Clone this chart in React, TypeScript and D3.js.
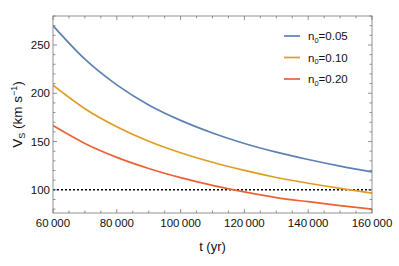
import * as d3 from "d3";

const times = [60000, 70000, 80000, 90000, 100000, 110000, 120000, 130000, 140000, 150000, 160000];
const vBlue = [270, 235.3, 208.7, 187.9, 171.9, 158.9, 148.0, 139.0, 131.4, 124.6, 118.6];
const vOrange = [208.3, 184.0, 165.3, 150.3, 138.4, 128.5, 120.1, 112.8, 106.8, 101.5, 96.6];
const vRed = [166.5, 148.0, 133.6, 122.1, 112.6, 104.6, 97.8, 92.0, 87.7, 83.7, 80.0];

const seriesNames = ["n0=0.05", "n0=0.10", "n0=0.20"];
const seriesColors = ["#5E81B5", "#E19C24", "#EB6235"];
const xTicks = [60000, 80000, 100000, 120000, 140000, 160000];
const yTicks = [100, 150, 200, 250];
const refLine = 100;

function App() {
  const width = 399;
  const height = 266;
  const marginLeft = 53;
  const marginRight = 27;
  const marginTop = 16;
  const marginBottom = 53;

  const x = d3
    .scaleLinear()
    .domain([60000, 160000])
    .range([marginLeft, width - marginRight]);
  const y = d3
    .scaleLinear()
    .domain([76, 280])
    .range([height - marginBottom, marginTop]);

  const series = [vBlue, vOrange, vRed];
  const line = d3
    .line<number>()
    .x((_, i) => x(times[i]))
    .y((d) => y(d))
    .curve(d3.curveMonotoneX);

  const fmt = (v: number) => d3.format(",")(v).replace(",", "\u2009");
  const xMinor = d3.range(60000, 160001, 5000);
  const yMinor = d3.range(80, 281, 10);
  const x0 = x.range()[0];
  const x1 = x.range()[1];
  const y0 = y.range()[0];
  const y1 = y.range()[1];
  const font = "'Liberation Sans', Arial, sans-serif";
  const frame = "#777";

  return (
    <svg
      width={width}
      height={height}
      style={{ position: "absolute", left: 0, top: 0, background: "#fff" }}
      fontFamily={font}
    >
      <defs>
        <clipPath id="plot">
          <rect x={x0} y={y1} width={x1 - x0} height={y0 - y1} />
        </clipPath>
      </defs>

      <g clipPath="url(#plot)">
        <line
          x1={x0}
          x2={x1}
          y1={y(refLine)}
          y2={y(refLine)}
          stroke="#000"
          strokeWidth={1.6}
          strokeDasharray="2,2"
        />
        {series.map((s, i) => (
          <path
            key={i}
            d={line(s) ?? ""}
            fill="none"
            stroke={seriesColors[i]}
            strokeWidth={1.7}
          />
        ))}
      </g>

      {/* frame ticks */}
      <g stroke={frame} strokeWidth={0.8}>
        {xMinor.map((t) => {
          const len = xTicks.includes(t) ? 4 : 2.5;
          return (
            <g key={t}>
              <line x1={x(t)} x2={x(t)} y1={y0} y2={y0 - len} />
              <line x1={x(t)} x2={x(t)} y1={y1} y2={y1 + len} />
            </g>
          );
        })}
        {yMinor.map((v) => {
          const len = yTicks.includes(v) ? 4 : 2.5;
          return (
            <g key={v}>
              <line x1={x0} x2={x0 + len} y1={y(v)} y2={y(v)} />
              <line x1={x1} x2={x1 - len} y1={y(v)} y2={y(v)} />
            </g>
          );
        })}
        <rect x={x0} y={y1} width={x1 - x0} height={y0 - y1} fill="none" />
      </g>

      <g fontSize={11.5} fill="#111">
        {xTicks.map((t) => (
          <text key={t} x={x(t)} y={y0 + 14} textAnchor="middle">
            {fmt(t)}
          </text>
        ))}
        {yTicks.map((v) => (
          <text key={v} x={x0 - 3} y={y(v)} dy="0.35em" textAnchor="end">
            {v}
          </text>
        ))}
      </g>

      <text
        x={(x0 + x1) / 2}
        y={251}
        textAnchor="middle"
        fontSize={13}
        fill="#111"
      >
        t (yr)
      </text>
      <text
        transform={`translate(22,${(y0 + y1) / 2}) rotate(-90)`}
        textAnchor="middle"
        fontSize={13.5}
        fill="#111"
      >
        V<tspan fontSize={9} dy={3}>S</tspan>
        <tspan dy={-3}> (km s</tspan>
        <tspan fontSize={9} dy={-5}>−1</tspan>
        <tspan dy={5}>)</tspan>
      </text>

      {seriesNames.map((name, i) => {
        const ly = 36 + i * 21.5;
        return (
          <g key={name}>
            <line
              x1={284}
              x2={300}
              y1={ly}
              y2={ly}
              stroke={seriesColors[i]}
              strokeWidth={1.7}
            />
            <text x={308} y={ly} dy="0.35em" fontSize={11.5} fill="#111">
              n<tspan fontSize={7.5} dy={2.5}>0</tspan>
              <tspan dy={-2.5}>{name.slice(2)}</tspan>
            </text>
          </g>
        );
      })}
    </svg>
  );
}

export default App;
